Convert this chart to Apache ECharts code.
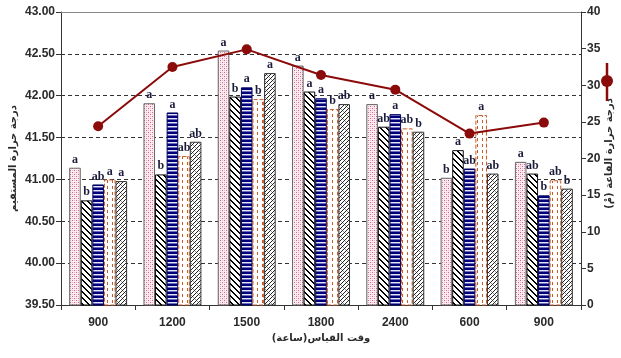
<!DOCTYPE html>
<html><head><meta charset="utf-8">
<script src="https://cdn.jsdelivr.net/npm/echarts@6/dist/echarts.min.js"></script>
<style>html,body{margin:0;padding:0;background:#fff}#c{width:621px;height:358px}</style>
</head><body><div id="c"></div>
<script>
var categories = ['900','1200','1500','1800','2400','600','900'];
var s1 = [41.14, 41.91, 42.54, 42.36, 41.90, 41.02, 41.21];
var s2 = [40.75, 41.06, 41.99, 42.05, 41.63, 41.35, 41.07];
var s3 = [40.94, 41.80, 42.10, 41.97, 41.78, 41.13, 40.81];
var s4 = [41.00, 41.28, 41.96, 41.84, 41.61, 41.77, 40.99];
var s5 = [40.98, 41.45, 42.27, 41.90, 41.57, 41.07, 40.89];
var l1 = ['a','a','a','a','a','b','a'];
var l2 = ['b','b','b','a','ab','a','ab'];
var l3 = ['ab','a','a','a','a','ab','b'];
var l4 = ['a','ab','b','b','ab','a','ab'];
var l5 = ['a','ab','a','ab','b','ab','b'];
var roomTemp = [24.4, 32.5, 34.9, 31.4, 29.4, 23.4, 24.9];
var leftTicks = {min: 39.5, max: 43, interval: 0.5};
var rightTicks = {min: 0, max: 40, interval: 5};

function mk(w, h, fn) {
  var c = document.createElement('canvas'); c.width = w; c.height = h;
  var ctx = c.getContext('2d'); fn(ctx, w, h); return c;
}
function px(ctx, x, y, col) { ctx.fillStyle = col; ctx.fillRect(x, y, 1, 1); }
var pDots = mk(4, 4, function (ctx, w, h) {
  ctx.fillStyle = '#fcecf1'; ctx.fillRect(0, 0, w, h);
  px(ctx, 0, 0, '#c9668a'); px(ctx, 2, 2, '#c9668a');
  px(ctx, 2, 0, '#eab8c8'); px(ctx, 0, 2, '#eab8c8');
});
var pBack = mk(6, 6, function (ctx, w, h) {
  ctx.fillStyle = '#fff'; ctx.fillRect(0, 0, w, h);
  for (var x = 0; x < w; x++) for (var y = 0; y < h; y++) {
    if (((x - y + 60) % 6) < 2) px(ctx, x, y, '#000');
  }
});
var pStripe = mk(2, 4, function (ctx, w, h) {
  var cols = ['#00007a', '#00007a', '#e4e4f6', '#6c6cb8'];
  for (var y = 0; y < h; y++) { ctx.fillStyle = cols[y]; ctx.fillRect(0, y, w, 1); }
});
var pDash = mk(5, 6, function (ctx, w, h) {
  ctx.fillStyle = '#fff'; ctx.fillRect(0, 0, w, h);
  ctx.fillStyle = '#c85a28'; ctx.fillRect(2, 0, 1, 3);
});
var pCross = mk(8, 8, function (ctx, w, h) {
  ctx.fillStyle = '#fff'; ctx.fillRect(0, 0, w, h);
  for (var x = 0; x < w; x++) for (var y = 0; y < h; y++) {
    if (((x + y) % 4) === 0) px(ctx, x, y, '#222');
    else if (((x - y + 64) % 8) === 0) px(ctx, x, y, '#999');
  }
});

function barSeries(name, data, letters, pat, border, btype) {
  return {
    name: name, type: 'bar', data: data, barGap: '0%', barCategoryGap: '22%',
    itemStyle: {color: {image: pat, repeat: 'repeat'}, borderColor: border, borderWidth: 1, borderType: btype || 'solid'},
    label: {show: true, position: 'top', distance: 2, color: '#1a1a3a',
      fontFamily: 'Liberation Serif', fontWeight: 'bold', fontSize: 12,
      formatter: function (p) { return letters[p.dataIndex]; }}
  };
}

var chart = echarts.init(document.getElementById('c'), null, {renderer: 'canvas'});
var axisLbl = {fontFamily: 'Liberation Sans', fontWeight: 'bold', fontSize: 12, color: '#2a2a2a'};
var nameStyle = {fontFamily: 'DejaVu Sans', fontWeight: 'bold', fontSize: 10, color: '#2a2a2a'};
chart.setOption({
  animation: false,
  backgroundColor: '#fff',
  grid: {left: 61, right: 40, top: 12, bottom: 53, outerBoundsMode: 'none'},
  xAxis: [{
    type: 'category', data: categories, position: 'bottom',
    axisLine: {lineStyle: {color: '#333'}},
    axisTick: {show: true, length: 5, lineStyle: {color: '#333'}},
    axisLabel: Object.assign({margin: 12}, axisLbl),
    name: 'وقت القياس(ساعة)', nameLocation: 'middle', nameGap: 28, nameMoveOverlap: false,
    nameTextStyle: nameStyle
  }, {
    type: 'category', data: categories, position: 'top',
    axisLine: {lineStyle: {color: '#888'}}, axisTick: {show: false}, axisLabel: {show: false}
  }],
  yAxis: [{
    type: 'value', min: leftTicks.min, max: leftTicks.max, interval: leftTicks.interval,
    axisLine: {show: true, lineStyle: {color: '#333'}},
    axisTick: {show: true, length: 5, lineStyle: {color: '#333'}},
    axisLabel: Object.assign({margin: 6, formatter: function (v) { return v.toFixed(2); }}, axisLbl),
    splitLine: {show: true, lineStyle: {color: '#333', type: [4, 3], width: 1}},
    name: 'درجة حرارة المستقيم', nameLocation: 'middle', nameRotate: 90, nameGap: 43, nameMoveOverlap: false,
    nameTextStyle: nameStyle
  }, {
    type: 'value', min: rightTicks.min, max: rightTicks.max, interval: rightTicks.interval, position: 'right',
    axisLine: {show: true, lineStyle: {color: '#333'}},
    axisTick: {show: true, length: 5, lineStyle: {color: '#333'}},
    axisLabel: Object.assign({margin: 6}, axisLbl),
    splitLine: {show: false},
    name: 'درجة حرارة القاعة (مْ)', nameLocation: 'middle', nameRotate: 90, nameGap: 23, nameMoveOverlap: false,
    nameTextStyle: Object.assign({padding: [0, 0, 0, 10]}, nameStyle)
  }],
  graphic: [
    {type: 'line', shape: {x1: 607, y1: 63, x2: 607, y2: 101}, style: {stroke: '#8b0a0a', lineWidth: 2.5}},
    {type: 'circle', shape: {cx: 607, cy: 81, r: 6}, style: {fill: '#8b0a0a'}}
  ],
  series: [
    barSeries('s1', s1, l1, pDots, '#666'),
    barSeries('s2', s2, l2, pBack, '#111'),
    barSeries('s3', s3, l3, pStripe, '#00005a'),
    barSeries('s4', s4, l4, pDash, '#c85a28', 'dashed'),
    barSeries('s5', s5, l5, pCross, '#333'),
    {name: 'room', type: 'line', yAxisIndex: 1, data: roomTemp, z: 10,
      symbol: 'circle', symbolSize: 10,
      lineStyle: {color: '#8b0a0a', width: 2}, itemStyle: {color: '#8b0a0a'}}
  ]
});
</script></body></html>
